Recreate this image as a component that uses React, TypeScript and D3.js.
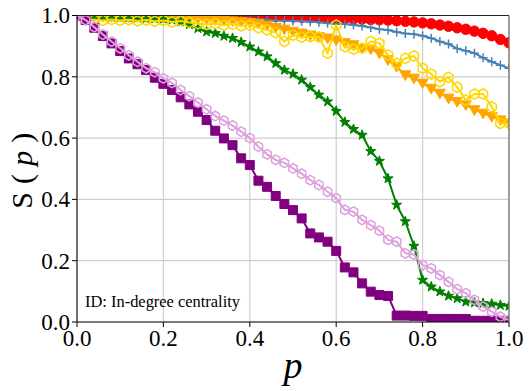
import React from "react";
import * as d3 from "d3";

const pValues = [0,0.02,0.04,0.06,0.08,0.1,0.12,0.14,0.16,0.18,0.2,0.22,0.24,0.26,0.28,0.3,0.32,0.34,0.36,0.38,0.4,0.42,0.44,0.46,0.48,0.5,0.52,0.54,0.56,0.58,0.6,0.62,0.64,0.66,0.68,0.7,0.72,0.74,0.76,0.78,0.8,0.82,0.84,0.86,0.88,0.9,0.92,0.94,0.96,0.98,1.0];

const redS = [1,1,1,1,1,1,1,1,1,1,1,1,1,1,1,1,1,1,1,1,1,0.999,0.998,0.997,0.996,0.995,0.994,0.993,0.992,0.991,0.99,0.99,0.989,0.988,0.987,0.986,0.985,0.983,0.981,0.979,0.976,0.973,0.969,0.965,0.96,0.955,0.949,0.942,0.934,0.922,0.911];
const blueS = [1,1,1,1,1,1,1,1,1,1,1,1,1,0.999,0.998,0.997,0.996,0.994,0.993,0.991,0.99,0.988,0.986,0.984,0.983,0.982,0.981,0.98,0.978,0.975,0.972,0.972,0.969,0.966,0.961,0.955,0.953,0.946,0.941,0.939,0.934,0.926,0.915,0.907,0.892,0.885,0.877,0.862,0.849,0.838,0.828];
const orangeS = [1,0.998,0.997,0.997,0.996,0.996,0.995,0.995,0.994,0.994,0.993,0.993,0.992,0.991,0.99,0.988,0.986,0.984,0.982,0.98,0.977,0.974,0.968,0.961,0.955,0.948,0.942,0.936,0.931,0.926,0.92,0.911,0.904,0.893,0.89,0.877,0.855,0.833,0.806,0.795,0.779,0.762,0.746,0.73,0.719,0.708,0.692,0.681,0.67,0.659,0.65];
const goldS = [1,0.988,0.986,0.984,0.987,0.984,0.986,0.982,0.985,0.981,0.984,0.979,0.982,0.977,0.973,0.971,0.974,0.968,0.972,0.966,0.968,0.96,0.953,0.944,0.915,0.936,0.929,0.931,0.93,0.877,0.969,0.898,0.89,0.893,0.915,0.909,0.871,0.844,0.86,0.868,0.828,0.809,0.784,0.798,0.766,0.724,0.744,0.744,0.702,0.648,0.648];
const greenS = [1,0.998,0.997,0.996,0.995,0.994,0.993,0.992,0.991,0.99,0.989,0.986,0.98,0.971,0.958,0.947,0.942,0.933,0.926,0.913,0.898,0.882,0.866,0.844,0.822,0.809,0.79,0.766,0.741,0.719,0.688,0.652,0.629,0.61,0.557,0.525,0.468,0.382,0.328,0.248,0.137,0.115,0.099,0.085,0.077,0.066,0.063,0.061,0.059,0.055,0.052];
const purpleS = [1,0.985,0.96,0.933,0.909,0.884,0.86,0.841,0.822,0.797,0.777,0.757,0.733,0.71,0.686,0.659,0.624,0.599,0.577,0.534,0.512,0.461,0.441,0.411,0.385,0.365,0.338,0.289,0.276,0.262,0.232,0.178,0.162,0.126,0.099,0.088,0.085,0.021,0.021,0.02,0.02,0.01,0.01,0.01,0.01,0.01,0.004,0.004,0.004,0.004,0.004];
const plumS = [1,0.985,0.962,0.938,0.915,0.893,0.87,0.849,0.828,0.815,0.795,0.78,0.757,0.737,0.716,0.694,0.672,0.657,0.641,0.621,0.6,0.572,0.547,0.529,0.519,0.501,0.484,0.463,0.447,0.425,0.404,0.366,0.36,0.333,0.316,0.298,0.268,0.262,0.224,0.22,0.186,0.175,0.153,0.131,0.107,0.094,0.072,0.05,0.034,0.017,0.007];

const xTicks = [0, 0.2, 0.4, 0.6, 0.8, 1.0];
const yTicks = [0, 0.2, 0.4, 0.6, 0.8, 1.0];
const annotation = "ID: In-degree centrality";

type Marker = "circle" | "plus" | "tridown" | "hex" | "star" | "square";
const series: { name: string; values: number[]; color: string; marker: Marker; filled: boolean; size: number }[] = [
  { name: "red", values: redS, color: "#ff0000", marker: "circle", filled: true, size: 5.2 },
  { name: "blue", values: blueS, color: "#4682b4", marker: "plus", filled: false, size: 4.5 },
  { name: "orange", values: orangeS, color: "#ffa500", marker: "tridown", filled: true, size: 5.5 },
  { name: "green", values: greenS, color: "#008000", marker: "star", filled: true, size: 5.3 },
  { name: "gold", values: goldS, color: "#ffd700", marker: "hex", filled: false, size: 5.2 },
  { name: "purple", values: purpleS, color: "#800080", marker: "square", filled: true, size: 4.5 },
  { name: "plum", values: plumS, color: "#dda0dd", marker: "hex", filled: false, size: 4.8 },
];

const L = 77, R = 509, T = 15.5, B = 322;

function markerPath(m: Marker, r: number): string {
  if (m === "circle") return d3.symbol(d3.symbolCircle, Math.PI * r * r)()!;
  if (m === "square") return `M${-r},${-r}H${r}V${r}H${-r}Z`;
  if (m === "plus") return `M${-r},0H${r}M0,${-r}V${r}`;
  if (m === "tridown") return `M${-r},${-r * 0.75}L${r},${-r * 0.75}L0,${r * 1.0}Z`;
  if (m === "hex") {
    const pts = d3.range(6).map(i => {
      const a = (Math.PI / 3) * i - Math.PI / 2;
      return [r * Math.cos(a), r * Math.sin(a)];
    });
    return "M" + pts.map(p => p.join(",")).join("L") + "Z";
  }
  const pts: number[][] = [];
  for (let i = 0; i < 10; i++) {
    const a = (Math.PI / 5) * i - Math.PI / 2;
    const rr = i % 2 === 0 ? r : r * 0.4;
    pts.push([rr * Math.cos(a), rr * Math.sin(a)]);
  }
  return "M" + pts.map(p => p.join(",")).join("L") + "Z";
}

const serif = "Liberation Serif";

export default function App() {
  const x = d3.scaleLinear().domain([0, 1]).range([L, R]);
  const y = d3.scaleLinear().domain([0, 1]).range([B, T]);
  const line = d3.line<number>().x((_, i) => x(pValues[i])).y(d => y(d));

  return (
    <svg width={531} height={391} style={{ position: "absolute", left: 0, top: 0, background: "#fff" }}>
      <defs>
        <clipPath id="plot">
          <rect x={L} y={T} width={R - L} height={B - T} />
        </clipPath>
      </defs>
      <g stroke="#cfcfcf" strokeWidth={1.2}>
        {xTicks.map(t => <line key={"gx" + t} x1={x(t)} x2={x(t)} y1={T} y2={B} />)}
        {yTicks.map(t => <line key={"gy" + t} x1={L} x2={R} y1={y(t)} y2={y(t)} />)}
      </g>
      <g clipPath="url(#plot)">
        {series.map(s => (
          <g key={s.name}>
            <path d={line(s.values)!} fill="none" stroke={s.color} strokeWidth={2} strokeLinejoin="round" />
            {s.values.map((v, i) => (
              <path
                key={i}
                transform={`translate(${x(pValues[i])},${y(v)})`}
                d={markerPath(s.marker, s.size)}
                fill={s.filled ? s.color : "none"}
                stroke={s.color}
                strokeWidth={s.marker === "plus" ? 1.5 : s.filled ? 1 : 1.5}
              />
            ))}
          </g>
        ))}
      </g>
      <line x1={L} x2={R} y1={T} y2={T} stroke="#222" strokeWidth={1.1} />
      <line x1={R} x2={R} y1={T} y2={B} stroke="#777" strokeWidth={1.3} />
      <line x1={L} x2={L} y1={T} y2={B} stroke="#111" strokeWidth={1.1} />
      <line x1={L} x2={R} y1={B} y2={B} stroke="#111" strokeWidth={1.1} />
      <g stroke="#000" strokeWidth={1}>
        {xTicks.map(t => <line key={"tx" + t} x1={x(t)} x2={x(t)} y1={B} y2={B + 5} />)}
        {yTicks.map(t => <line key={"ty" + t} x1={L - 5} x2={L} y1={y(t)} y2={y(t)} />)}
      </g>
      {xTicks.map(t => (
        <text key={"lx" + t} x={x(t)} y={346} textAnchor="middle" fontFamily={serif} fontSize={23}>{d3.format(".1f")(t)}</text>
      ))}
      {yTicks.map(t => (
        <text key={"ly" + t} x={70} y={y(t) + 7.8} textAnchor="end" fontFamily={serif} fontSize={23}>{d3.format(".1f")(t)}</text>
      ))}
      <text x={85} y={307} fontFamily={serif} fontSize={16} textLength={155} lengthAdjust="spacingAndGlyphs">{annotation}</text>
      <text x={(L + R) / 2} y={378} fontFamily={serif} fontSize={38} fontStyle="italic" textAnchor="middle">p</text>
      <text transform={`translate(32,${(T + B) / 2 + 2}) rotate(-90)`} fontFamily={serif} fontSize={30} textAnchor="middle" textLength={76} lengthAdjust="spacing">
        S(<tspan fontStyle="italic">p</tspan>)
      </text>
    </svg>
  );
}
